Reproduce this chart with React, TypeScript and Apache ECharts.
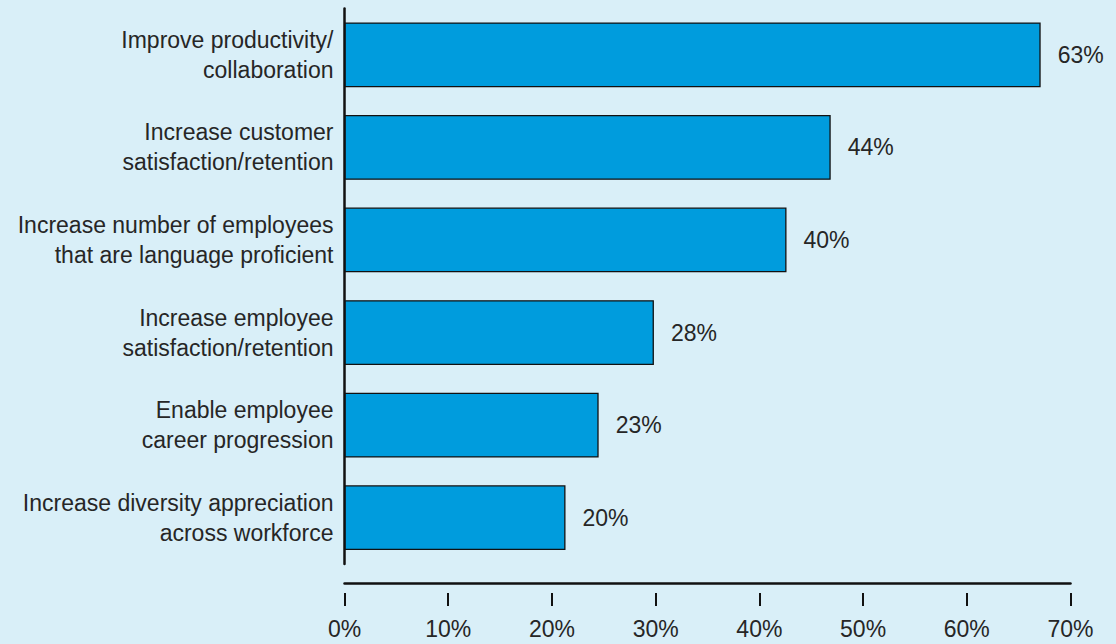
import React, { useEffect, useRef } from "react";
import * as echarts from "echarts";

const categories = [
  "Improve productivity/\ncollaboration",
  "Increase customer\nsatisfaction/retention",
  "Increase number of employees\nthat are language proficient",
  "Increase employee\nsatisfaction/retention",
  "Enable employee\ncareer progression",
  "Increase diversity appreciation\nacross workforce",
];
const values = [63, 44, 40, 28, 23, 20];
const axisMin = 0;
const axisMax = 70;
const axisStep = 10;
// the bars in the source are drawn on a slightly different scale than the printed axis
const barScaleMax = 65.7;

const FONT = "'Liberation Sans', Arial, sans-serif";
const TEXT = "#262626";
const INK = "#111111";

export default function App() {
  const ref = useRef<HTMLDivElement>(null);
  useEffect(() => {
    if (!ref.current) return;
    const chart = echarts.init(ref.current, undefined, { renderer: "svg" });
    chart.setOption({
      animation: false,
      backgroundColor: "#d9eff8",
      grid: { left: 344.5, right: 45.5, top: 8.5, bottom: 80, containLabel: false },
      xAxis: [
        {
          type: "value",
          min: axisMin,
          max: axisMax,
          interval: axisStep,
          position: "bottom",
          offset: 19,
          axisLine: { show: true, lineStyle: { color: INK, width: 2.5 } },
          axisTick: { show: false },
          axisLabel: { show: false },
          splitLine: { show: false },
        },
        {
          type: "value",
          min: axisMin,
          max: axisMax,
          interval: axisStep,
          position: "bottom",
          offset: 29,
          axisLine: { show: false },
          axisTick: { show: true, length: 13, lineStyle: { color: INK, width: 2 } },
          axisLabel: {
            formatter: "{value}%",
            margin: 24,
            fontSize: 23,
            fontFamily: FONT,
            color: TEXT,
          },
          splitLine: { show: false },
        },
        {
          type: "value",
          min: 0,
          max: barScaleMax,
          show: false,
          splitLine: { show: false },
        },
      ],
      yAxis: {
        type: "category",
        data: categories,
        inverse: true,
        axisLine: { show: true, lineStyle: { color: INK, width: 2.5 } },
        axisTick: { show: false },
        axisLabel: {
          fontSize: 23,
          lineHeight: 30,
          margin: 11,
          fontFamily: FONT,
          color: TEXT,
        },
        splitLine: { show: false },
      },
      series: [
        {
          type: "bar",
          xAxisIndex: 2,
          data: values,
          barCategoryGap: "30%",
          itemStyle: { color: "#009cdd", borderColor: INK, borderWidth: 1.3 },
          label: {
            show: true,
            position: "right",
            distance: 17,
            formatter: "{c}%",
            fontSize: 23,
            fontFamily: FONT,
            color: TEXT,
          },
        },
      ],
    });
    return () => chart.dispose();
  }, []);
  return (
    <div
      ref={ref}
      style={{ position: "absolute", left: 0, top: 0, width: 1116, height: 644 }}
    />
  );
}
